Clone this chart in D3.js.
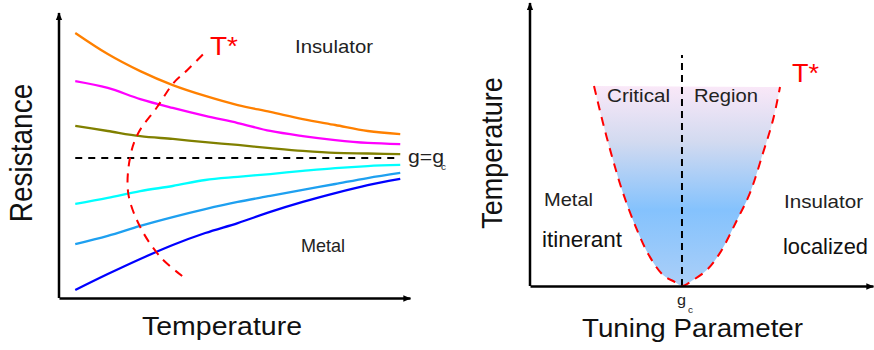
<!DOCTYPE html>
<html>
<head>
<meta charset="utf-8">
<script src="https://cdn.jsdelivr.net/npm/d3@7/dist/d3.min.js"></script>
<style>
  html, body { margin: 0; padding: 0; background: #fff; }
  svg { display: block; font-family: "Liberation Sans", Arial, sans-serif; }
</style>
</head>
<body>
<svg id="chart" width="874" height="350"></svg>
<script>
// ---- Left panel: resistance vs temperature for several tuning values ----
const temperature = [0, 1, 2, 3, 4, 5, 6, 7, 8, 9, 10];
const rOrange  = [93.0, 85.6, 79.6, 74.7, 70.9, 67.7, 65.3, 62.8, 60.7, 58.6, 57.5];
const rMagenta = [76.1, 73.7, 69.8, 66.7, 63.9, 61.4, 58.6, 56.8, 55.4, 54.4, 54.0];
const rOlive   = [60.4, 58.6, 56.8, 55.8, 54.7, 53.7, 52.6, 51.6, 50.9, 50.7, 50.5];
const rCritical = 49.1;
const rCyan    = [33.0, 35.1, 37.5, 39.3, 41.4, 42.5, 43.5, 44.6, 45.6, 46.3, 46.7];
const rSky     = [18.9, 21.8, 25.3, 28.4, 31.2, 33.7, 35.8, 37.9, 40.0, 42.1, 43.9];
const rBlue    = [2.8, 8.4, 13.7, 18.6, 22.8, 26.3, 30.2, 33.7, 36.8, 39.6, 41.8];
const seriesColors = ["#ff8000", "#ff00ff", "#808000", "#00ffff", "#1ea0f0", "#0000ff"];

// Crossover T* traced through the resistance curves
const crossT = [3.29, 2.62, 2.0, 1.63, 1.69, 1.94, 2.52, 3.02, 3.45, 4.0];
const crossR = [7.7, 14.4, 24.9, 36.8, 49.5, 57.9, 67.0, 75.4, 80.0, 86.3];

// ---- Right panel: critical region over tuning parameter ----
const gTune = [1.866, 2.128, 2.420, 2.711, 3.120, 3.499, 3.878, 4.227, 4.431,
               4.752, 5.160, 5.539, 6.035, 6.414, 6.793, 7.085, 7.289];
const tStar = [7.07, 5.76, 4.45, 3.29, 1.98, 1.02, 0.39, 0.14, 0.0,
               0.21, 0.57, 1.17, 2.33, 3.29, 4.70, 5.87, 7.03];
const gCritical = 4.431;
const tTopLine = 8.16;

const svg = d3.select("#chart");
const textColor = "#222";

// Arrowhead marker for the axes
const defs = svg.append("defs");
defs.append("marker")
  .attr("id", "arrow")
  .attr("viewBox", "0 0 10 10")
  .attr("refX", 9).attr("refY", 5)
  .attr("markerWidth", 3.2).attr("markerHeight", 3.2)
  .attr("orient", "auto")
  .append("path").attr("d", "M0,1 L10,5 L0,9 Z").attr("fill", "#000");

const grad = defs.append("linearGradient")
  .attr("id", "regionFill").attr("x1", 0).attr("y1", 0).attr("x2", 0).attr("y2", 1);
[["0%", "#fae8f8"], ["28%", "#d2daf0"], ["62%", "#84c2fd"], ["100%", "#abcff8"]]
  .forEach(([o, c]) => grad.append("stop").attr("offset", o).attr("stop-color", c));

// ---------- Left panel ----------
const xL = d3.scaleLinear().domain([-0.5, 10.3]).range([59, 410]);
const yL = d3.scaleLinear().domain([0, 100]).range([298, 13]);

function arrowAxis(g, axis, markerEnd) {
  g.call(axis);
  g.selectAll(".tick").remove();
  g.select(".domain").attr("stroke", "#000").attr("stroke-width", 2.5)
    .attr("marker-end", markerEnd ? "url(#arrow)" : null);
}

const left = svg.append("g");
// y axis drawn upward so the arrow sits at the top
left.append("path")
  .attr("d", d3.line()([[xL(-0.5), yL(0)], [xL(-0.5), yL(100)]]))
  .attr("stroke", "#000").attr("stroke-width", 2.5).attr("fill", "none")
  .attr("marker-end", "url(#arrow)");
left.append("g").attr("transform", `translate(0,${yL(0)})`)
  .call(g => arrowAxis(g, d3.axisBottom(xL).tickValues([]).tickSizeOuter(0), true));

const lineL = d3.line()
  .x((d, i) => xL(temperature[i]))
  .y(d => yL(d))
  .curve(d3.curveMonotoneX);

[rOrange, rMagenta, rOlive, rCyan, rSky, rBlue].forEach((s, k) => {
  left.append("path").attr("d", lineL(s))
    .attr("fill", "none").attr("stroke", seriesColors[k]).attr("stroke-width", 2.3);
});

left.append("path")
  .attr("d", d3.line()([[xL(0), yL(rCritical)], [xL(10), yL(rCritical)]]))
  .attr("stroke", "#000").attr("stroke-width", 2).attr("stroke-dasharray", "7,6");

left.append("path")
  .attr("d", d3.line().x((d, i) => xL(crossT[i])).y(d => yL(d)).curve(d3.curveCatmullRom)(crossR))
  .attr("fill", "none").attr("stroke", "#ff0000").attr("stroke-width", 2)
  .attr("stroke-dasharray", "9,7");

function label(g, txt, x, y, size, len, color) {
  return g.append("text").attr("x", x).attr("y", y)
    .attr("font-size", size).attr("fill", color || textColor)
    .attr("textLength", len).attr("lengthAdjust", "spacingAndGlyphs")
    .text(txt);
}

label(left, "T*", 210, 55, 26, 28, "#ff0000");
label(left, "Insulator", 295, 53, 18.5, 78);
label(left, "Metal", 301, 252, 18.5, 44);
label(left, "g=g", 408, 163, 19, 36);
label(left, "c", 441, 170, 9, 5);
label(left, "Temperature", 142, 335, 25, 160, "#111");
left.append("text")
  .attr("transform", "translate(32,153) scale(1.1,1) rotate(-90)")
  .attr("text-anchor", "middle").attr("font-size", 28).attr("fill", "#111")
  .text("Resistance");

// ---------- Right panel ----------
const xR = d3.scaleLinear().domain([0, 10]).range([530, 873]);
const yR = d3.scaleLinear().domain([0, 10]).range([286, 3]);

const right = svg.append("g");

const lineR = d3.line()
  .x((d, i) => xR(gTune[i]))
  .y(d => yR(d))
  .curve(d3.curveCatmullRom);

// shaded critical fan, closed along its top edge
right.append("path").attr("d", lineR(tStar) + "Z")
  .attr("fill", "url(#regionFill)").attr("stroke", "none");

right.append("path")
  .attr("d", d3.line()([[xR(gCritical), yR(0)], [xR(gCritical), yR(tTopLine)]]))
  .attr("stroke", "#000").attr("stroke-width", 2).attr("stroke-dasharray", "7,5");

right.append("path").attr("d", lineR(tStar))
  .attr("fill", "none").attr("stroke", "#ff0000").attr("stroke-width", 2)
  .attr("stroke-dasharray", "9,7");

right.append("path")
  .attr("d", d3.line()([[xR(0), yR(0)], [xR(0), yR(10)]]))
  .attr("stroke", "#000").attr("stroke-width", 2.5).attr("fill", "none")
  .attr("marker-end", "url(#arrow)");
right.append("g").attr("transform", `translate(0,${yR(0)})`)
  .call(g => arrowAxis(g, d3.axisBottom(xR).tickValues([]).tickSizeOuter(0), true));

label(right, "T*", 792, 82, 26, 27, "#ff0000");
label(right, "Critical", 607, 102, 18.5, 63);
label(right, "Region", 694, 102, 18.5, 64);
label(right, "Metal", 544, 206, 18.5, 49);
label(right, "itinerant", 542, 247, 22, 80, "#111");
label(right, "Insulator", 784, 208, 18.5, 79);
label(right, "localized", 783, 254, 22, 85, "#111");
label(right, "g", 677, 305, 15, 9);
label(right, "c", 688, 313, 9, 5);
label(right, "Tuning Parameter", 582, 337, 25, 221, "#111");
right.append("text")
  .attr("transform", "translate(502,153) scale(1.1,1) rotate(-90)")
  .attr("text-anchor", "middle").attr("font-size", 27).attr("fill", "#111")
  .text("Temperature");
</script>
</body>
</html>
